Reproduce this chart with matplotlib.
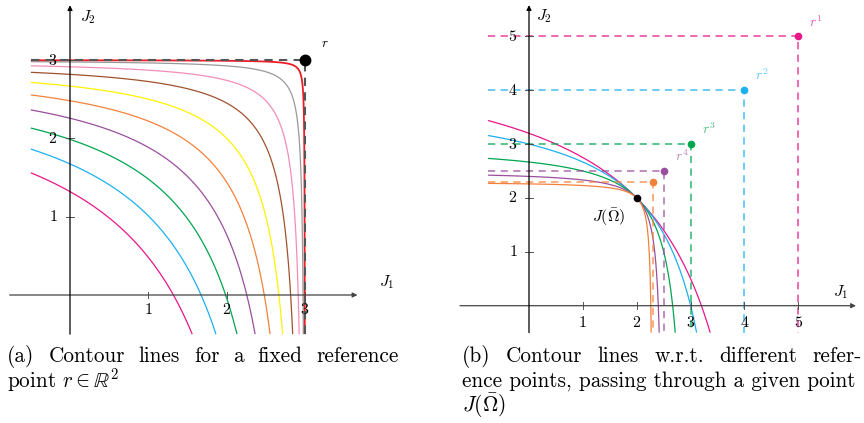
import matplotlib
matplotlib.use("Agg")
import matplotlib.pyplot as plt
import numpy as np

plt.rcParams['mathtext.fontset'] = 'cm'
plt.rcParams['axes.unicode_minus'] = False

# (a) contour lines for a fixed reference point r
r_fixed = 3.0
levels_a = [5.04, 3.98, 3.04, 2.23, 1.56, 1.0, 0.55, 0.26, 0.075, 0.01]
colors_a = ['#e8168a', '#1cb0f0', '#00a650', '#994f9d', '#f4813a',
            '#fff200', '#a0522d', '#f48cb8', '#999999', '#ee1c25']
ticks_a = [1, 2, 3]

# (b) contour lines through J(Omega bar) for several reference points
j_bar = (2.0, 2.0)
refs_b = [5.0, 4.0, 3.0, 2.5, 2.3]
ref_labels_b = ['$r^1$', '$r^2$', '$r^3$', '$r^4$', '']
colors_b = ['#e8168a', '#1cb0f0', '#00a650', '#994f9d', '#f4813a']
ticks_b = [1, 2, 3, 4, 5]

caption_a = [['(a)', 'Contour', 'lines', 'for', 'a', 'fixed', 'reference'],
             [r'point $r\in\mathbb{R}^2$']]
caption_b = [['(b)', 'Contour', 'lines', 'w.r.t.', 'different', 'refer-'],
             ['ence points, passing through a given point'],
             [r'$J(\bar{\mathit{\Omega}})$']]

W, H = 864, 423


def panel_axes(fig, left_px, width_px, x0_px, y0_px, scale):
    ax = fig.add_axes([left_px / W, (H - 340) / H, width_px / W, 340 / H])
    ax.set_xlim((left_px - x0_px) / scale, (left_px + width_px - x0_px) / scale)
    ax.set_ylim(-(340 - y0_px) / scale, y0_px / scale)
    ax.axis('off')
    return ax


def draw_axes(ax, xlo, xhi, ylo, yhi, ticks, tx, ty):
    ax.annotate('', xy=(xhi, 0), xytext=(xlo, 0),
                arrowprops=dict(arrowstyle='-|>', color='#444444', lw=0.9,
                                mutation_scale=7, shrinkA=0, shrinkB=0))
    ax.annotate('', xy=(0, yhi), xytext=(0, ylo),
                arrowprops=dict(arrowstyle='-|>', color='black', lw=0.9,
                                mutation_scale=7, shrinkA=0, shrinkB=0))
    for t in ticks:
        ax.plot([t, t], [-tx * 0.22, tx * 0.22], color='#555555', lw=0.7)
        ax.plot([-ty * 0.22, ty * 0.22], [t, t], color='#555555', lw=0.7)
        ax.text(t, -tx, f'${t}$', ha='center', va='center', fontsize=11.5)
        ax.text(-ty, t, f'${t}$', ha='center', va='center', fontsize=11.5)


def draw_level(ax, r, level, color, x0, y0, lw=0.9):
    x = np.linspace(x0, r, 2000)
    y = np.linspace(y0, r, 2000)
    X, Y = np.meshgrid(x, y)
    Z = (r - X) * (r - Y)
    ax.contour(X, Y, Z, levels=[level], colors=[color], linewidths=lw)


fig = plt.figure(figsize=(W / 100, H / 100), dpi=100)

# ---- panel (a)
sa = 78.33
ax_a = panel_axes(fig, 0, 432, 70, 295, sa)
for lev, col in zip(levels_a, colors_a):
    draw_level(ax_a, r_fixed, lev, col, -0.5, -0.5,
               lw=1.3 if col == '#ee1c25' else 0.9)
ax_a.plot([-0.5, r_fixed, r_fixed], [r_fixed, r_fixed, -0.5],
          color='#555555', lw=1.5, dashes=(4, 3))
ax_a.plot(r_fixed, r_fixed, 'o', color='black', ms=7.5)
ax_a.text(r_fixed + 0.2, r_fixed + 0.17, '$r$', fontsize=9.5)
draw_axes(ax_a, -0.77, 3.67, -0.5, 3.70, ticks_a, 15 / sa, 17 / sa)
ax_a.text(0.23, 3.55, '$J_2$', fontsize=11.5, ha='center', va='center')
ax_a.text(4.05, 0.17, '$J_1$', fontsize=11.5, ha='center', va='center')

# ---- panel (b)
sb = 53.87
ax_b = panel_axes(fig, 432, 432, 529, 305.7, sb)
for r, col in zip(refs_b, colors_b):
    lev = (r - j_bar[0]) * (r - j_bar[1])
    draw_level(ax_b, r, lev, col, -0.76, -0.5)
for r, col, lab in zip(refs_b, colors_b, ref_labels_b):
    ax_b.plot([-0.76, r, r], [r, r, -0.5], color=col, alpha=0.7,
              lw=1.3, dashes=(4, 3))
    ax_b.plot(r, r, 'o', color=col, ms=4.5)
    ax_b.text(r + 0.33, r + 0.27, lab, color=col, alpha=0.7, fontsize=10,
              ha='center', va='center')
ax_b.plot(*j_bar, 'o', color='black', ms=4.5, zorder=5)
ax_b.text(j_bar[0] - 0.53, j_bar[1] - 0.35, r'$J(\bar{\mathit{\Omega}})$',
          fontsize=11.5, ha='center', va='center')
draw_axes(ax_b, -1.28, 6.07, -0.5, 5.58, ticks_b, 17 / sb, 16 / sb)
ax_b.text(0.28, 5.37, '$J_2$', fontsize=11.5, ha='center', va='center')
ax_b.text(5.78, 0.25, '$J_1$', fontsize=11.5, ha='center', va='center')

# ---- captions, justified between left and right pixel edges
cap = dict(fontfamily='cmr10', fontsize=15.3, va='baseline', ha='left')


def caption(lines, left, right, base):
    renderer = fig.canvas.get_renderer()
    for i, line in enumerate(lines):
        y = 1 - (base + 25 * i) / H
        texts = [fig.text(left / W, y, w, **cap) for w in line]
        if len(texts) < 2:
            continue
        widths = [t.get_window_extent(renderer).width for t in texts]
        gap = (right - left - sum(widths)) / (len(texts) - 1)
        x = left
        for t, w in zip(texts, widths):
            t.set_x(x / W)
            x += w + gap


caption(caption_a, 7, 399, 362)
caption(caption_b, 462, 862, 362)

fig.savefig('out.png', dpi=100)
